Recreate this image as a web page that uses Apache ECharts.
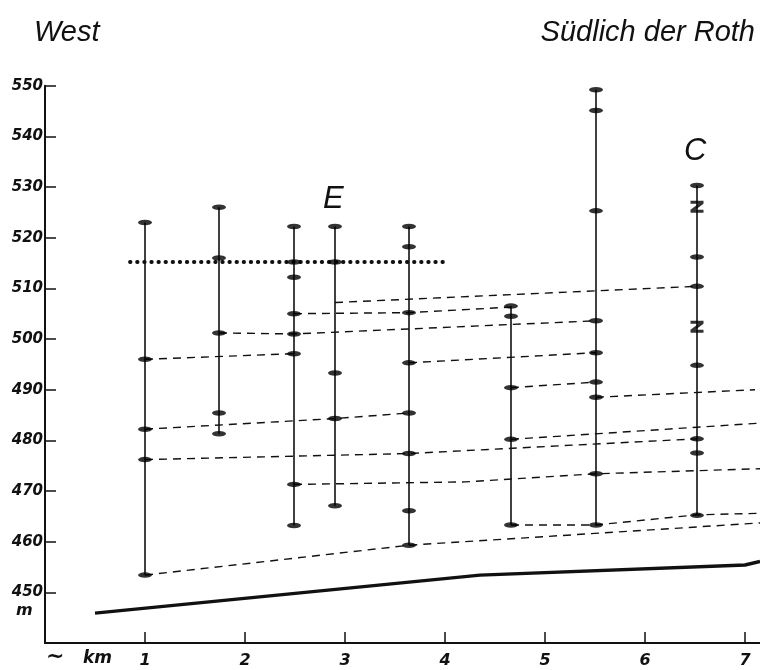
<!DOCTYPE html>
<html>
<head>
<meta charset="utf-8">
<script src="https://cdn.jsdelivr.net/npm/echarts@6/dist/echarts.min.js"></script>
<style>
html,body{margin:0;padding:0;background:#fff;}
#chart{width:760px;height:670px;}
</style>
</head>
<body>
<div id="chart"></div>
<script>
// ---- data (km along profile, metres above sea level) ----
const kmTicks = [1, 2, 3, 4, 5, 6, 7];
const mTicks = [450, 460, 470, 480, 490, 500, 510, 520, 530, 540, 550];

const boreKm = [1.0, 1.74, 2.49, 2.90, 3.64, 4.66, 5.51, 6.52];
const boreMarks = [
  [523.0, 496.0, 482.2, 476.2, 453.4],
  [526.0, 516.0, 501.2, 485.4, 481.3],
  [522.2, 515.2, 512.2, 505.0, 501.0, 497.1, 471.3, 463.2],
  [522.2, 515.2, 493.3, 484.3, 467.1],
  [522.2, 518.2, 505.2, 495.3, 485.4, 477.4, 466.1, 459.3],
  [506.5, 504.5, 490.4, 480.2, 463.3],
  [549.2, 545.1, 525.3, 503.6, 497.3, 491.5, 488.5, 473.4, 463.3],
  [530.3, 516.2, 510.4, 494.8, 480.3, 477.5, 465.2]
];
const zMarks = [[6.52, 526.1], [6.52, 502.4]];

const dottedLine = [[0.85, 515.2], [4.0, 515.2]];

const corrA = [[2.90, 507.2], [6.52, 510.4]];
const corrB = [[2.49, 505.0], [3.64, 505.2], [4.66, 506.3]];
const corrC = [[1.74, 501.2], [2.49, 501.0], [5.51, 503.6]];
const corrD = [[3.64, 495.3], [5.51, 497.3]];
const corrE = [[1.0, 496.0], [2.49, 497.1]];
const corrF = [[1.0, 482.2], [2.90, 484.3], [3.64, 485.4]];
const corrG = [[1.0, 476.2], [3.64, 477.4], [6.52, 480.3]];
const corrH = [[4.66, 490.4], [5.51, 491.5]];
const corrI = [[5.51, 488.5], [7.1, 490.0]];
const corrJ = [[4.66, 480.2], [7.15, 483.4]];
const corrL = [[2.49, 471.3], [4.2, 471.8], [5.51, 473.4], [7.15, 474.4]];
const corrM = [[4.66, 463.3], [5.51, 463.3], [6.52, 465.3], [7.15, 465.6]];
const corrN = [[1.0, 453.4], [3.64, 459.3], [7.15, 463.7]];
const correlations = [corrA, corrB, corrC, corrD, corrE, corrF, corrG, corrH, corrI, corrJ, corrL, corrM, corrN];

const groundLine = [[0.5, 445.9], [4.35, 453.4], [7.0, 455.4], [7.15, 456.1]];

// ---- build chart ----
const INK = '#111';
const series = [];

boreKm.forEach((km, i) => {
  const ms = boreMarks[i];
  series.push({
    type: 'line', silent: true, symbol: 'none', clip: false,
    data: [[km, Math.max(...ms)], [km, Math.min(...ms)]],
    lineStyle: { color: INK, width: 1.6 }, z: 3
  });
});

correlations.forEach(c => {
  series.push({
    type: 'line', silent: true, symbol: 'none', clip: false,
    data: c,
    lineStyle: { color: INK, width: 1.4, type: [8, 6] }, z: 2
  });
});

series.push({
  type: 'line', silent: true, symbol: 'none', clip: false,
  data: dottedLine,
  lineStyle: { color: INK, width: 3.8, type: [0.5, 6.6], cap: 'round' }, z: 2
});

series.push({
  type: 'line', silent: true, symbol: 'none', clip: false,
  data: groundLine,
  lineStyle: { color: INK, width: 3.4 }, z: 2
});

const markPts = [];
boreKm.forEach((km, i) => boreMarks[i].forEach(m => markPts.push([km, m])));
series.push({
  type: 'scatter', silent: true, data: markPts,
  symbol: 'circle', symbolSize: [14, 5.5],
  itemStyle: { color: '#000' }, z: 4
});
series.push({
  type: 'scatter', silent: true, data: zMarks,
  symbol: 'path://M0,0 L13,0 L13,3 L5,9 L13,9 L13,12 L0,12 L0,9 L8,3 L0,3 Z',
  symbolSize: [13, 12],
  itemStyle: { color: '#000' }, z: 4
});

const labelFont = { fontFamily: 'DejaVu Sans', fontStyle: 'italic', fontWeight: 'bold', color: INK };

const option = {
  backgroundColor: '#fff',
  animation: false,
  grid: { left: 45, right: 0, top: 85.7, bottom: 27, containLabel: false },
  xAxis: {
    type: 'value', min: 0, max: 7.15,
    axisLine: { show: true, lineStyle: { color: INK, width: 2 } },
    axisTick: { show: true, inside: true, length: 11, customValues: kmTicks, lineStyle: { color: INK, width: 1.5 } },
    axisLabel: Object.assign({ show: true, customValues: kmTicks, fontSize: 16, margin: 10, formatter: v => String(v) }, labelFont),
    splitLine: { show: false }
  },
  yAxis: {
    type: 'value', min: 440, max: 550,
    axisLine: { show: true, lineStyle: { color: INK, width: 2 } },
    axisTick: { show: true, inside: true, length: 11, customValues: mTicks, lineStyle: { color: INK, width: 1.5 } },
    axisLabel: Object.assign({ show: true, customValues: mTicks, fontSize: 15, margin: 2, formatter: v => String(v) }, labelFont),
    splitLine: { show: false }
  },
  graphic: [
    { type: 'text', left: 34, top: 18, style: { text: 'West', font: 'italic 29px "Liberation Sans"', fill: INK } },
    { type: 'text', right: 5, top: 18, style: { text: 'Südlich der Roth', font: 'italic 29px "Liberation Sans"', fill: INK } },
    { type: 'text', x: 323, y: 184, style: { text: 'E', font: 'italic 31px "Liberation Sans"', fill: INK } },
    { type: 'text', x: 684, y: 136, style: { text: 'C', font: 'italic 31px "Liberation Sans"', fill: INK } },
    { type: 'text', x: 16, y: 603, style: { text: 'm', font: 'italic bold 16px "DejaVu Sans"', fill: INK } },
    { type: 'text', x: 46, y: 646, style: { text: '~', font: 'bold 22px "DejaVu Sans"', fill: INK } },
    { type: 'text', x: 83, y: 650, style: { text: 'km', font: 'italic bold 17px "DejaVu Sans"', fill: INK } }
  ],
  series: series
};

const chart = echarts.init(document.getElementById('chart'), null, { renderer: 'canvas' });
chart.setOption(option);
</script>
</body>
</html>
